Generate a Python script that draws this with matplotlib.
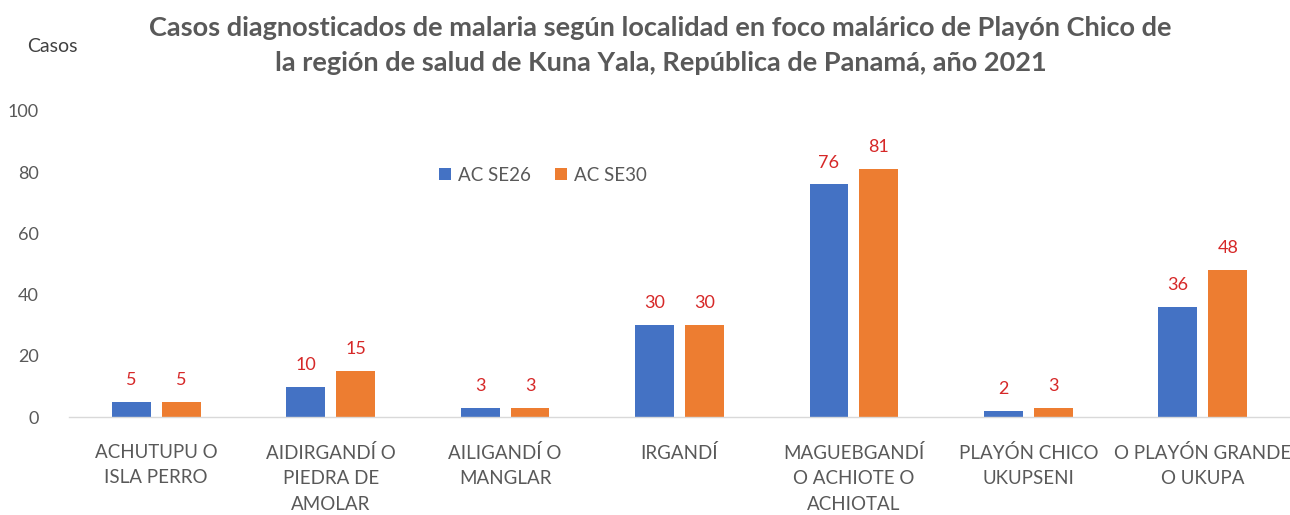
import numpy as np
import matplotlib.pyplot as plt

# data
localidades = ["ACHUTUPU O\nISLA PERRO",
               "AIDIRGANDÍ O\nPIEDRA DE\nAMOLAR",
               "AILIGANDÍ O\nMANGLAR",
               "IRGANDÍ",
               "MAGUEBGANDÍ\nO ACHIOTE O\nACHIOTAL",
               "PLAYÓN CHICO\nUKUPSENI",
               "O PLAYÓN GRANDE\nO UKUPA"]
se26 = [5, 10, 3, 30, 76, 2, 36]
se30 = [5, 15, 3, 30, 81, 3, 48]
series_names = ["AC SE26", "AC SE30"]
yticks = [0, 20, 40, 60, 80, 100]

plt.rcParams['font.family'] = ['Lato', 'DejaVu Sans']

fig = plt.figure(figsize=(12.9, 5.15), dpi=100)
ax = fig.add_axes([0.0535, 0.19, 0.9465, 0.5945])

x = np.arange(len(localidades))
w = 0.223
off = 0.143
b1 = ax.bar(x - off, se26, w, color="#4472C4", label=series_names[0])
b2 = ax.bar(x + off, se30, w, color="#ED7D31", label=series_names[1])

#value labels in red above the bars
for bars in (b1, b2):
    for r in bars:
        ax.annotate(str(int(r.get_height())), (r.get_x() + r.get_width()/2, r.get_height()),
                    xytext=(0, 10), textcoords="offset points", ha="center", va="bottom",
                    color="#D62828", fontsize=13)

ax.set_xlim(-0.5, 6.5)
ax.set_ylim(0, 100)
ax.set_yticks(yticks)
ax.set_xticks(x)
ax.set_xticklabels(localidades, fontsize=13.5, color="#595959", linespacing=1.62)
ax.tick_params(axis="x", length=0, pad=19)
ax.tick_params(axis="y", length=0, pad=22, labelsize=13, labelcolor="#595959")

for s in ["top", "right", "left"]:
    ax.spines[s].set_visible(False)
ax.spines["bottom"].set_color("#D9D9D9")
ax.spines["bottom"].set_linewidth(1.0)

ax.legend(loc="center", bbox_to_anchor=(0.388, 0.79), ncol=2, frameon=False,
          fontsize=13.5, labelcolor="#595959", handlelength=0.65, handleheight=0.65,
          handletextpad=0.35, columnspacing=1.3)

fig.text(0.512, 0.946, "Casos diagnosticados de malaria según localidad en foco malárico de Playón Chico de",
         ha="center", va="center", fontsize=19.5, fontweight="bold", color="#595959")
fig.text(0.512, 0.877, "la región de salud de Kuna Yala, República de Panamá, año 2021",
         ha="center", va="center", fontsize=19.5, fontweight="bold", color="#595959")
fig.text(0.021, 0.91, "Casos", ha="left", va="center", fontsize=14, color="#404040")

fig.savefig("out.png", dpi=100)
